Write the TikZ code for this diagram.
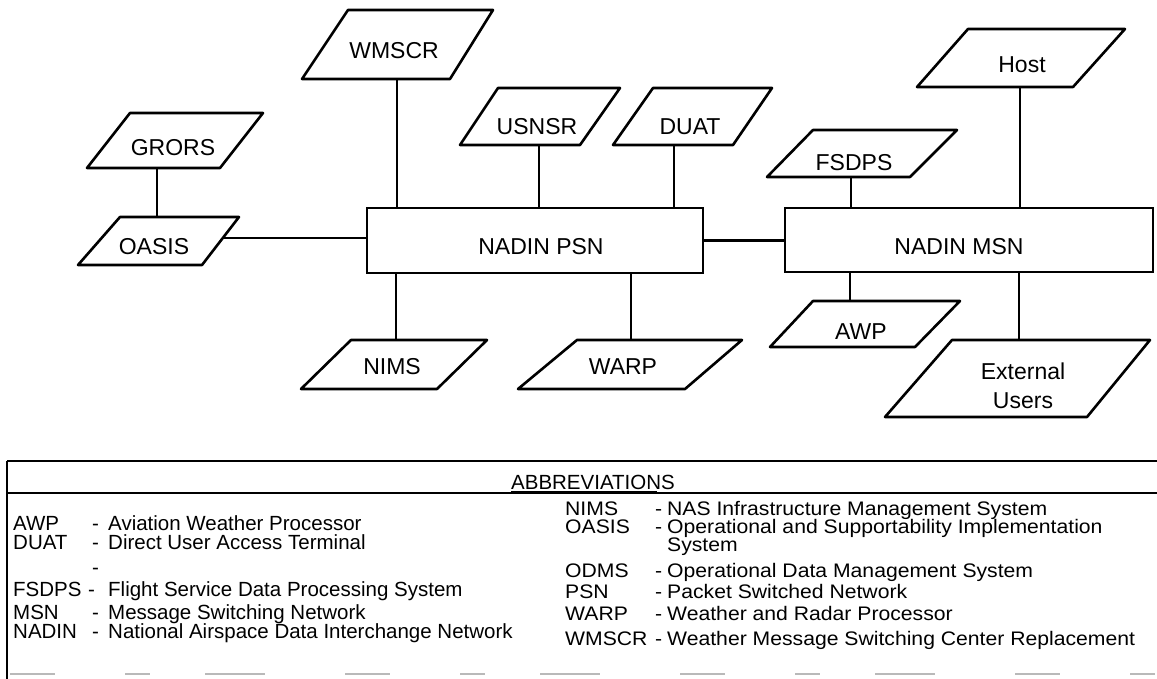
\documentclass[tikz,border=0pt]{standalone}
\usepackage{fontspec}
\setmainfont{Liberation Sans}
\newfontfamily\widefont[FakeStretch=1.08]{Liberation Sans}
\newcommand{\pgm}[7]{% name, top-left x, top-right x, bottom-left x, bottom-right x, top y, bottom y
  \draw[shp] (#2,#6) coordinate (#1-tl) -- (#3,#6) coordinate (#1-tr) -- (#5,#7) coordinate (#1-br) -- (#4,#7) coordinate (#1-bl) -- cycle;}
\begin{document}
\begin{tikzpicture}[x=1pt,y=-1pt,
  shp/.style={draw=black, line width=2.6pt, line join=round},
  conn/.style={draw=black, line width=2.6pt},
  netbox/.style={draw=black, line width=2.6pt, rectangle, inner sep=0pt},
  lbl/.style={font=\fontsize{23}{29}\selectfont, inner sep=0pt, anchor=center, align=center},
  tab/.style={font=\fontsize{20.5}{23}\selectfont, inner sep=0pt, anchor=base west},
  tabr/.style={font=\widefont\fontsize{19.6}{23}\selectfont, inner sep=0pt, anchor=base west},
  tabline/.style={draw=black, line width=2.8pt}]
\useasboundingbox (0,0) rectangle (1157,679);
\fill[white] (0,0) rectangle (1157,679);

% ---------- network boxes ----------
\node[netbox, minimum width=336pt, minimum height=65pt] (psn) at (535,240.5) {};
\node[netbox, minimum width=368pt, minimum height=64pt] (msn) at (969,240) {};
\node[lbl] (psnlbl) at (541,247) {NADIN PSN};
\node[lbl] (msnlbl) at (959,247) {NADIN MSN};

% ---------- parallelograms ----------
\pgm{grors}{130}{263}{87}{220}{113}{168}
\node[lbl] (grorslbl) at (173,148) {GRORS};
\pgm{oasis}{120}{239}{78}{202}{217}{265}
\node[lbl] (oasislbl) at (154,247) {OASIS};
\pgm{wmscr}{348}{493}{302}{450}{10}{79}
\node[lbl] (wmscrlbl) at (394,51) {WMSCR};
\pgm{usnsr}{498}{620}{460}{580}{88}{145}
\node[lbl] (usnsrlbl) at (537,127) {USNSR};
\pgm{duat}{653}{772}{613}{733}{88}{145}
\node[lbl] (duatlbl) at (690,127) {DUAT};
\pgm{fsdps}{813}{957}{767}{910}{130}{177}
\node[lbl] (fsdpslbl) at (854,163) {FSDPS};
\pgm{host}{968}{1125}{917}{1073}{29}{87}
\node[lbl] (hostlbl) at (1022,65) {Host};
\pgm{nims}{351}{487}{301}{437}{340}{389}
\node[lbl] (nimslbl) at (392,367) {NIMS};
\pgm{warp}{577}{742}{518}{685}{340}{389}
\node[lbl] (warplbl) at (623,367) {WARP};
\pgm{awp}{813}{960}{770}{915}{301}{347}
\node[lbl] (awplbl) at (861,332) {AWP};
\pgm{ext}{952}{1150}{885}{1087}{340}{417}
\node[lbl] (extlbl) at (1023,386) {External\\Users};

% ---------- connector end points ----------
\coordinate (grors-s) at (157,168);
\coordinate (oasis-e) at (223,238);
\coordinate (wmscr-s) at (397,79);
\coordinate (usnsr-s) at (539,145);
\coordinate (duat-s) at (674,145);
\coordinate (nims-n) at (396,340);
\coordinate (warp-n) at (631,340);
\coordinate (fsdps-s) at (851,177);
\coordinate (host-s) at (1020,87);
\coordinate (awp-n) at (850,301);
\coordinate (ext-n) at (1019,340);

% ---------- connectors ----------
\draw[conn] (grors-s) -- (grors-s |- oasis-tl);
\draw[conn] (oasis-e) -- (oasis-e -| psn.west);
\draw[conn] (wmscr-s) -- (wmscr-s |- psn.north);
\draw[conn] (usnsr-s) -- (usnsr-s |- psn.north);
\draw[conn] (duat-s) -- (duat-s |- psn.north);
\draw[conn] (nims-n |- psn.south) -- (nims-n);
\draw[conn] (warp-n |- psn.south) -- (warp-n);
\draw[conn] (psn.east) -- (psn.east -| msn.west);
\draw[conn] (fsdps-s) -- (fsdps-s |- msn.north);
\draw[conn] (host-s) -- (host-s |- msn.north);
\draw[conn] (awp-n |- msn.south) -- (awp-n);
\draw[conn] (ext-n |- msn.south) -- (ext-n);

% ---------- abbreviations table ----------
\draw[tabline] (7,461) -- (1157,461);
\draw[draw=black, line width=2pt] (7,493) -- (1157,493);
\draw[tabline] (7,461) -- (7,679);
\draw[gray!55, line width=1.2pt, dash pattern=on 45pt off 70pt on 25pt off 55pt on 60pt off 80pt] (10,674) -- (1157,674);
\node[font=\fontsize{20.5}{23}\selectfont, inner sep=0pt, anchor=base] (abbr) at (593,489) {ABBREVIATIONS};
\draw[draw=black, line width=1.6pt] (abbr.base west) ++(0,2.5) -- ++(146,0);

% left column
\node[tab] (a1) at (13,530) {AWP};
\node[tab] (a1d) at (92,530) {-};
\node[tab] (a1t) at (108,530) {Aviation Weather Processor};
\node[tab] (a2) at (13,549) {DUAT};
\node[tab] (a2d) at (92,549) {-};
\node[tab] (a2t) at (108,549) {Direct User Access Terminal};
\node[tab] (a3d) at (92,574) {-};
\node[tab] (a4) at (13,596) {FSDPS};
\node[tab] (a4d) at (88,596) {-};
\node[tab] (a4t) at (108,596) {Flight Service Data Processing System};
\node[tab] (a5) at (13,619) {MSN};
\node[tab] (a5d) at (92,619) {-};
\node[tab] (a5t) at (108,619) {Message Switching Network};
\node[tab] (a6) at (13,638) {NADIN};
\node[tab] (a6d) at (92,638) {-};
\node[tab] (a6t) at (108,638) {National Airspace Data Interchange Network};

% right column
\node[tabr] (b1) at (565,515) {NIMS};
\node[tabr] (b1d) at (655,515) {-};
\node[tabr] (b1t) at (667,515) {NAS Infrastructure Management System};
\node[tabr] (b2) at (565,533) {OASIS};
\node[tabr] (b2d) at (655,533) {-};
\node[tabr] (b2t) at (667,533) {Operational and Supportability Implementation};
\node[tabr] (b2u) at (667,551) {System};
\node[tabr] (b3) at (565,577) {ODMS};
\node[tabr] (b3d) at (655,577) {-};
\node[tabr] (b3t) at (667,577) {Operational Data Management System};
\node[tabr] (b4) at (565,598) {PSN};
\node[tabr] (b4d) at (655,598) {-};
\node[tabr] (b4t) at (667,598) {Packet Switched Network};
\node[tabr] (b5) at (565,620) {WARP};
\node[tabr] (b5d) at (655,620) {-};
\node[tabr] (b5t) at (667,620) {Weather and Radar Processor};
\node[tabr] (b6) at (565,645) {WMSCR};
\node[tabr] (b6d) at (655,645) {-};
\node[tabr] (b6t) at (667,645) {Weather Message Switching Center Replacement};
\end{tikzpicture}
\end{document}
